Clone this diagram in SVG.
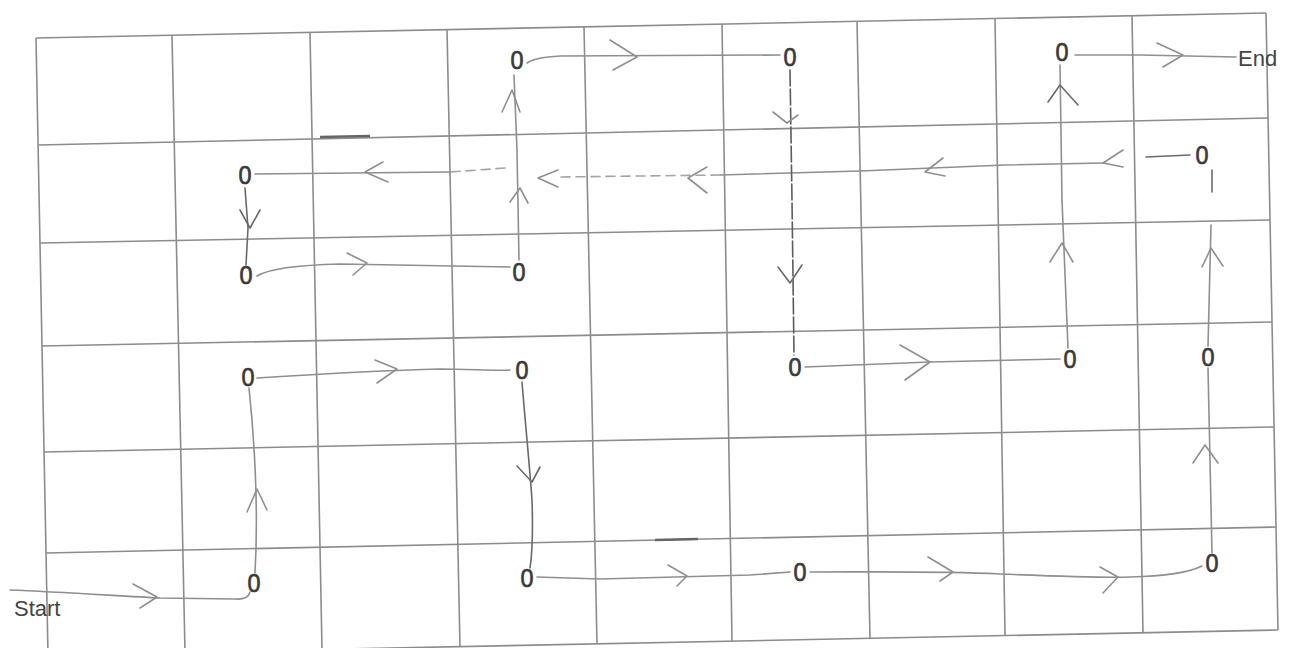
<svg xmlns="http://www.w3.org/2000/svg" width="1293" height="648" viewBox="0 0 1293 648">
<style>
.grid line{stroke:#8c8c8c;stroke-width:1.6;fill:none}
.c path{stroke:#8f8f8f;stroke-width:1.6;fill:none;stroke-linecap:round;stroke-linejoin:round}
.c path.dk{stroke:#6a6a6a}
.c path.dash{stroke-dasharray:9 6;stroke:#a5a5a5}
.c path.dk2{stroke:#5c5c5c;stroke-dasharray:16 3}
.n text{font-family:"Liberation Sans",Arial,sans-serif;font-size:26px;fill:#3a3a3a;stroke:#3a3a3a;stroke-width:0.7;text-anchor:middle}
.lbl{font-family:"Liberation Sans",Arial,sans-serif;font-size:22px;fill:#444}
.mark{stroke:#666;stroke-width:2.4}
</style>
<rect width="1293" height="648" fill="#ffffff"/>
<g class="grid">
<line x1="36" y1="38" x2="1266" y2="13"/>
<line x1="38" y1="145" x2="1268" y2="118"/>
<line x1="40" y1="243" x2="1270" y2="220"/>
<line x1="42" y1="346" x2="1272" y2="322"/>
<line x1="44" y1="452" x2="1274" y2="427"/>
<line x1="46" y1="553" x2="1276" y2="527"/>
<line x1="48" y1="655" x2="1278" y2="630"/>
<line x1="36" y1="38" x2="48" y2="655"/>
<line x1="172" y1="35.2" x2="185" y2="652.2"/>
<line x1="310" y1="32.4" x2="322" y2="649.4"/>
<line x1="447" y1="29.6" x2="460" y2="646.6"/>
<line x1="584" y1="26.9" x2="597" y2="643.8"/>
<line x1="722" y1="24.1" x2="732" y2="641.1"/>
<line x1="857" y1="21.3" x2="870" y2="638.3"/>
<line x1="995" y1="18.5" x2="1005" y2="635.5"/>
<line x1="1132" y1="15.7" x2="1143" y2="632.7"/>
<line x1="1266" y1="13" x2="1278" y2="630"/>
</g>
<line class="mark" x1="320" y1="137" x2="370" y2="136"/>
<line class="mark" x1="655" y1="540" x2="698" y2="539"/>
<g class="c" id="connectors">
<path d="M10,590 C60,592 120,596 160,598 L235,599 Q248,600 250,592"/>
<path d="M133,584 L157,597 L140,608"/>
<path d="M255,573 C258,520 256,470 252,420 L249,388"/>
<path d="M247,512 L257,489 L267,510"/>
<path d="M257,378 C320,374 400,370 440,369 C470,369 495,371 510,370"/>
<path d="M375,360 L397,369 L377,383"/>
<path class="dk" d="M522,382 C525,420 530,470 532,500 C533,530 532,555 530,568"/>
<path class="dk" d="M517,466 L532,482 L540,467"/>
<path d="M537,577 L600,579 C650,578 700,576 750,575 L790,572"/>
<path d="M668,565 L687,576 L677,586"/>
<path d="M810,572 C880,572 940,571 1000,574 C1050,576 1100,578 1130,577 C1170,576 1190,572 1202,566"/>
<path d="M928,557 L953,572 L940,581"/>
<path d="M1100,567 L1118,577 L1103,593"/>
<path d="M1212,553 L1210,460 L1208,368"/>
<path d="M1193,463 L1205,445 L1218,463"/>
<path d="M1208,346 L1211,225"/>
<path class="dk" d="M1212,170 L1212,192"/>
<path d="M1202,267 L1211,248 L1223,266"/>
<path class="dk" d="M1190,155 L1146,157"/>
<path d="M1123,150 L1103,163 L1123,167"/>
<path d="M1103,163 L1005,165 L860,171 L720,175"/>
<path class="dash" d="M720,175 L560,177"/>
<path d="M943,158 L925,172 L945,176"/>
<path d="M707,167 L688,178 L707,193"/>
<path d="M558,170 L538,178 L558,187"/>
<path class="dash" d="M505,168 L450,172"/>
<path d="M450,172 L255,174"/>
<path d="M383,162 L365,172 L388,182"/>
<path class="dk" d="M245,188 L248,228 L246,265"/>
<path class="dk" d="M240,210 L250,228 L260,210"/>
<path d="M257,276 C270,268 300,265 340,264 L510,267"/>
<path d="M347,253 L367,263 L353,275"/>
<path d="M519,260 L517,150 L514,75"/>
<path d="M510,202 L520,188 L528,203"/>
<path d="M502,112 L512,90 L520,112"/>
<path d="M527,63 C535,58 545,57 560,56 L780,55"/>
<path d="M610,40 L637,57 L613,70"/>
<path class="dk2" d="M790,70 L792,200 L794,355"/>
<path d="M773,112 L787,123 L798,115"/>
<path class="dk" d="M778,267 L790,283 L802,265"/>
<path d="M805,367 L930,362 L1060,359"/>
<path d="M900,345 L930,362 L905,380"/>
<path d="M1068,348 L1062,200 L1060,65"/>
<path d="M1050,262 L1062,243 L1073,262"/>
<path class="dk" d="M1048,102 L1060,85 L1078,105"/>
<path d="M1075,55 L1140,55 L1236,57"/>
<path d="M1157,43 L1183,55 L1163,67"/>
</g>
<g class="n" id="n1"><text x="517" y="69" textLength="13" lengthAdjust="spacingAndGlyphs">0</text></g>
<g class="n" id="n2"><text x="790" y="66" textLength="13" lengthAdjust="spacingAndGlyphs">0</text></g>
<g class="n" id="n3"><text x="1062" y="61" textLength="13" lengthAdjust="spacingAndGlyphs">0</text></g>
<g class="n" id="n4"><text x="245" y="184" textLength="13" lengthAdjust="spacingAndGlyphs">0</text></g>
<g class="n" id="n5"><text x="1202" y="164" textLength="13" lengthAdjust="spacingAndGlyphs">0</text></g>
<g class="n" id="n6"><text x="246" y="284" textLength="13" lengthAdjust="spacingAndGlyphs">0</text></g>
<g class="n" id="n7"><text x="519" y="281" textLength="13" lengthAdjust="spacingAndGlyphs">0</text></g>
<g class="n" id="n8"><text x="248" y="386" textLength="13" lengthAdjust="spacingAndGlyphs">0</text></g>
<g class="n" id="n9"><text x="522" y="379" textLength="13" lengthAdjust="spacingAndGlyphs">0</text></g>
<g class="n" id="n10"><text x="795" y="376" textLength="13" lengthAdjust="spacingAndGlyphs">0</text></g>
<g class="n" id="n11"><text x="1070" y="368" textLength="13" lengthAdjust="spacingAndGlyphs">0</text></g>
<g class="n" id="n12"><text x="1208" y="366" textLength="13" lengthAdjust="spacingAndGlyphs">0</text></g>
<g class="n" id="n13"><text x="254" y="592" textLength="13" lengthAdjust="spacingAndGlyphs">0</text></g>
<g class="n" id="n14"><text x="527" y="587" textLength="13" lengthAdjust="spacingAndGlyphs">0</text></g>
<g class="n" id="n15"><text x="800" y="581" textLength="13" lengthAdjust="spacingAndGlyphs">0</text></g>
<g class="n" id="n16"><text x="1212" y="572" textLength="13" lengthAdjust="spacingAndGlyphs">0</text></g>
<g id="start"><text class="lbl" x="14" y="616">Start</text></g>
<g id="end"><text class="lbl" x="1238" y="66">End</text></g>
</svg>
